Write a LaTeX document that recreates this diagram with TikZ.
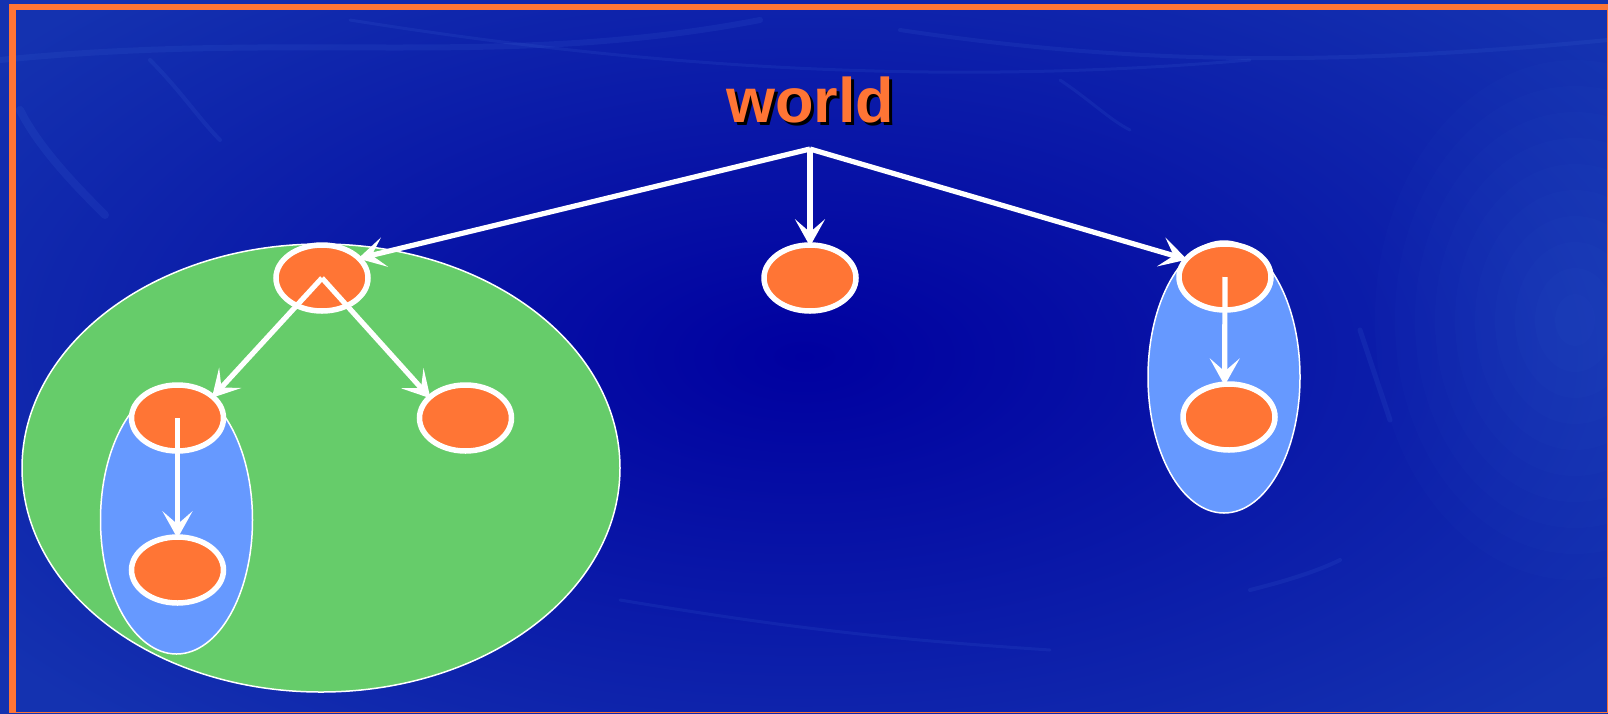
\documentclass[tikz,border=0pt]{standalone}
\usepackage{fontspec}
\setmainfont{Liberation Sans}
\usetikzlibrary{shapes.geometric,arrows.meta}
\definecolor{orng}{HTML}{FF7535}
\definecolor{grn}{HTML}{66CC6A}
\definecolor{blu}{HTML}{6699FF}
\definecolor{bgdark}{HTML}{0000A0}
\definecolor{bglight}{HTML}{1432B0}
\definecolor{streak}{HTML}{4A78E0}
\begin{document}
\begin{tikzpicture}[x=1pt,y=-1pt,
  obj/.style={ellipse, draw=white, line width=5.5pt, fill=orng, minimum width=92pt, minimum height=66pt, inner sep=0pt},
  grp/.style={ellipse, draw=white, line width=1.5pt, inner sep=0pt},
  link/.style={draw=white, line width=5.2pt, shorten >=-4pt, -{Stealth[length=27pt,width=30pt,inset=13pt]}},
  streakline/.style={draw=streak, opacity=0.12, line cap=round},
]
\useasboundingbox (0,0) rectangle (1608,713);
% background
\shade[inner color=bgdark, outer color=bglight] (-200,-150) rectangle (1808,863);
\begin{scope}
\clip (0,0) rectangle (1608,713);
\foreach \r in {200,180,...,20}{
  \fill[streak, opacity=0.03] (1575,320) ellipse [x radius=\r pt, y radius=1.3*\r pt];
}
\draw[streakline, line width=6pt] (0,60) .. controls (300,30) and (500,70) .. (760,20);
\draw[streakline, line width=3pt] (350,20) .. controls (600,60) and (900,90) .. (1250,60);
\draw[streakline, line width=4pt] (900,30) .. controls (1100,60) and (1300,70) .. (1608,40);
\draw[streakline, line width=8pt] (20,110) .. controls (40,150) and (80,190) .. (105,215);
\draw[streakline, line width=4pt] (150,60) .. controls (180,90) and (200,120) .. (220,140);
\draw[streakline, line width=5pt] (1360,330) .. controls (1370,360) and (1380,390) .. (1390,420);
\draw[streakline, line width=4pt] (1250,590) .. controls (1290,580) and (1320,570) .. (1340,560);
\draw[streakline, line width=3pt] (620,600) .. controls (800,630) and (900,640) .. (1050,650);
\draw[streakline, line width=3pt] (1060,80) .. controls (1090,100) and (1110,120) .. (1130,130);
\end{scope}
% frame
\fill[orng] (9.3,4) rectangle (15.7,713);
\fill[orng] (9.3,4) rectangle (1608,10);
\fill[orng] (1606.5,4) rectangle (1608,713);
\fill[orng] (9.3,711.5) rectangle (1608,713);
% groups
\node[grp, fill=grn, minimum width=598pt, minimum height=448pt] (g1) at (321,468) {};
\node[grp, fill=blu, minimum width=152pt, minimum height=268pt] (g2) at (176.5,520) {};
\node[grp, fill=blu, minimum width=152pt, minimum height=272pt] (g3) at (1224,377) {};
% title
\node[text=black, font=\bfseries\fontsize{63}{63}\selectfont, inner sep=0pt] at (813,103) {world};
\node[text=orng, font=\bfseries\fontsize{63}{63}\selectfont, inner sep=0pt] (world) at (810,100) {world};
\coordinate (root) at (810,149);
% objects
\node[obj] (A) at (322,278) {};
\node[obj] (B) at (810,278) {};
\node[obj] (C) at (1225,277) {};
\node[obj] (D) at (1229,417) {};
\node[obj] (E) at (177.5,418) {};
\node[obj] (F) at (465.5,418) {};
\node[obj] (G) at (177.5,570) {};
% links
\draw[link] (root) -- (A.27);
\draw[link] (root) -- (B);
\draw[link] (root) -- (C.156);
\draw[link] (A.center) -- (E.32);
\draw[link] (A.center) -- (F.149);
\draw[link] (C.center) -- (D.97);
\draw[link] (E.center) -- (G);
\end{tikzpicture}
\end{document}
